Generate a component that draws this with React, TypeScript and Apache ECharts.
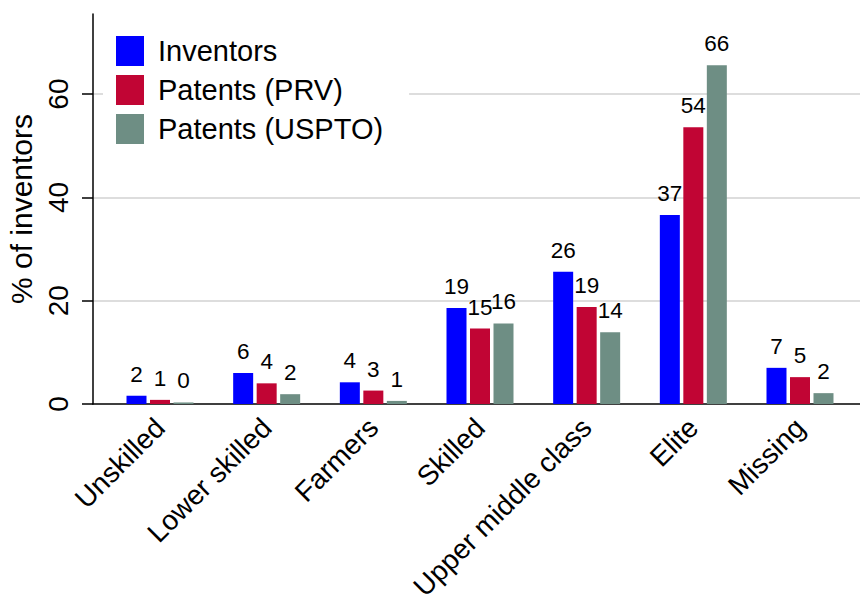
import React, { useEffect, useRef } from "react";
import * as echarts from "echarts";

const categories = [
  "Unskilled",
  "Lower skilled",
  "Farmers",
  "Skilled",
  "Upper middle class",
  "Elite",
  "Missing",
];
const seriesNames = ["Inventors", "Patents (PRV)", "Patents (USPTO)"];
const inventors = [1.6, 6.0, 4.2, 18.6, 25.6, 36.6, 7.0];
const patentsPRV = [0.8, 4.0, 2.6, 14.6, 18.8, 53.6, 5.2];
const patentsUSPTO = [0.3, 1.9, 0.6, 15.6, 13.9, 65.6, 2.1];
const yTicks = [0, 20, 40, 60];
const yName = "% of inventors";

const FONT = "'Liberation Sans', Arial, Helvetica, sans-serif";
const colors = ["#0000FF", "#C10534", "#6E8E84"];

export default function App() {
  const ref = useRef<HTMLDivElement>(null);
  useEffect(() => {
    if (!ref.current) return;
    const chart = echarts.init(ref.current, undefined, { renderer: "svg" });
    const seriesData = [inventors, patentsPRV, patentsUSPTO];
    const option: any = {
      animation: false,
      textStyle: { fontFamily: FONT },
      grid: [
        { left: 93, right: 0, top: 14, bottom: 199, outerBoundsMode: "none", containLabel: false },
        { left: 106.67, right: 6.67, top: 14, bottom: 199, outerBoundsMode: "none", containLabel: false },
      ],
      legend: {
        orient: "vertical",
        left: 103,
        top: 22,
        padding: [14, 26, 11, 13],
        backgroundColor: "#ffffff",
        itemWidth: 28,
        itemHeight: 30,
        itemGap: 9,
        icon: "rect",
        textStyle: {
          fontSize: 29,
          lineHeight: 30,
          color: "#000",
          fontFamily: FONT,
          padding: [0, 0, 0, 9],
        },
        data: seriesNames,
      },
      xAxis: [
        {
          gridIndex: 0,
          type: "value",
          min: 0,
          max: 1,
          axisLine: { show: true, onZero: false, lineStyle: { color: "#000", width: 1.5 } },
          axisTick: { show: false },
          axisLabel: { show: false },
          splitLine: { show: false },
        },
        {
          gridIndex: 1,
          type: "category",
          data: categories,
          axisLine: { show: false },
          axisTick: { show: false },
          axisLabel: {
            interval: 0,
            rotate: 45,
            fontSize: 28,
            lineHeight: 28,
            color: "#000",
            fontFamily: FONT,
            margin: 19,
          },
        },
      ],
      yAxis: [
        {
          gridIndex: 0,
          type: "value",
          min: 0,
          max: 75.5,
          interval: 20,
          name: yName,
          nameLocation: "middle",
          nameGap: 53,
          nameTextStyle: { fontSize: 30, color: "#000", fontFamily: FONT },
          axisLine: { show: true, lineStyle: { color: "#000", width: 1.5 } },
          axisTick: {
            show: true,
            length: 11,
            customValues: yTicks,
            lineStyle: { color: "#000", width: 1.5 },
          },
          axisLabel: {
            rotate: 90,
            fontSize: 28,
            color: "#000",
            fontFamily: FONT,
            margin: 21,
            customValues: yTicks,
          },
          splitLine: {
            show: true,
            showMinLine: false,
            lineStyle: { color: "#DDDDDD", width: 2 },
          },
        },
        {
          gridIndex: 1,
          type: "value",
          min: 0,
          max: 75.5,
          show: false,
          splitLine: { show: false },
        },
      ],
      series: seriesNames.map((name, i) => ({
        name,
        type: "bar",
        xAxisIndex: 1,
        yAxisIndex: 1,
        data: seriesData[i],
        barWidth: 20,
        barGap: "17.5%",
        itemStyle: { color: colors[i] },
        label: {
          show: true,
          position: "top",
          distance: 10,
          fontSize: 22.5,
          color: "#000",
          fontFamily: FONT,
          formatter: (p: any) => String(Math.round(p.value)),
        },
      })),
    };
    chart.setOption(option);
    return () => chart.dispose();
  }, []);
  return (
    <div
      ref={ref}
      style={{ position: "absolute", left: 0, top: 0, width: 860, height: 603 }}
    />
  );
}
